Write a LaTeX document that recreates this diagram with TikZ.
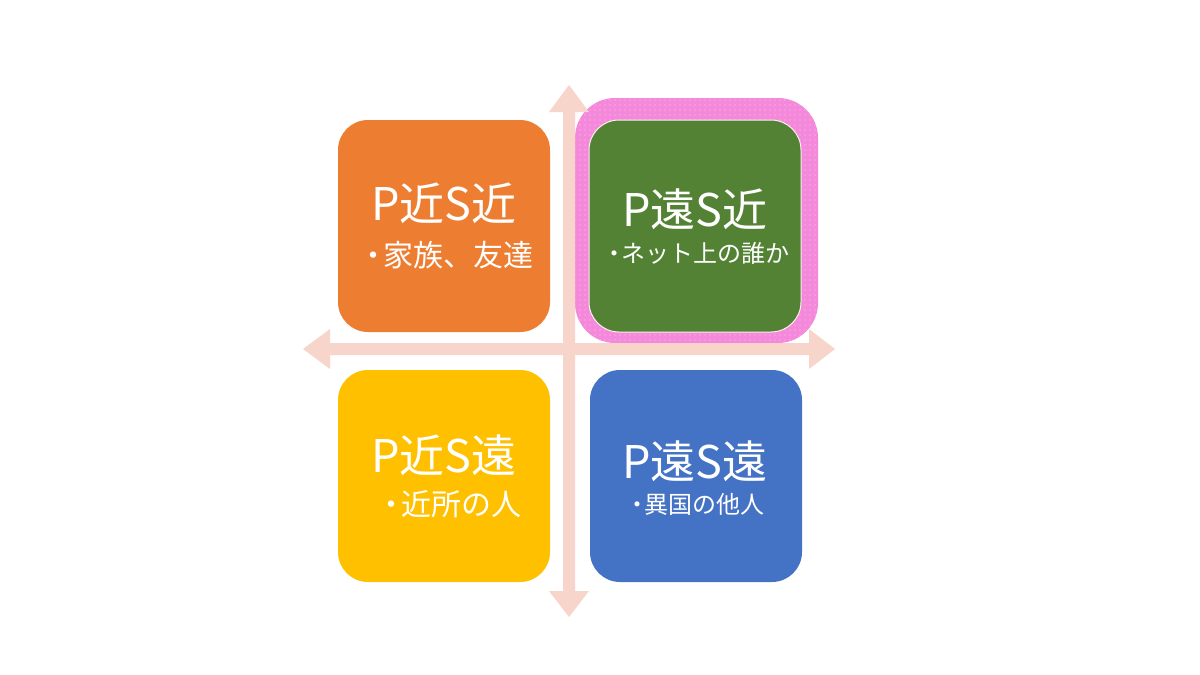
\documentclass[tikz,border=0pt]{standalone}
\usepackage{fontspec}
\setmainfont{Noto Sans CJK JP}
\usetikzlibrary{patterns.meta}
\definecolor{cOrange}{HTML}{ED7D31}
\definecolor{cGreen}{HTML}{548235}
\definecolor{cYellow}{HTML}{FFC000}
\definecolor{cBlue}{HTML}{4472C4}
\definecolor{cPink}{HTML}{F488DA}
\definecolor{cDot}{HTML}{FBC8EF}
\definecolor{cArrow}{HTML}{F8D5CA}
\newcommand{\bul}{・\kern-0.18em}
\tikzset{
  quadbox/.style={rounded corners=30pt, minimum width=212pt, minimum height=212pt, inner sep=0pt, draw=none},
  maintext/.style={text=white, font=\fontsize{45}{50}\selectfont, anchor=base, inner sep=0pt},
  subbig/.style={text=white, font=\fontsize{30}{34}\selectfont, anchor=base, inner sep=0pt},
  subsmall/.style={text=white, font=\fontsize{24}{28}\selectfont, anchor=base, inner sep=0pt},
  arrowshape/.style={fill=cArrow, draw=none}
}
\begin{document}
\begin{tikzpicture}[x=1pt,y=-1pt]
\useasboundingbox (0,0) rectangle (1200,675);
\fill[white] (0,0) rectangle (1200,675);
% highlight frame
\node[rounded corners=40pt, minimum width=243pt, minimum height=245pt, inner sep=0pt, fill=cPink] (frame) at (696.5,220.5) {};
\node[rounded corners=40pt, minimum width=243pt, minimum height=245pt, inner sep=0pt, pattern={Dots[distance=5pt,radius=0.6pt]}, pattern color=cDot] (framedots) at (696.5,220.5) {};
% axes
\fill[arrowshape] (563,112) -- (549,112) -- (569,85) -- (589,112) -- (575,112) -- (575,591) -- (589,591) -- (569,617) -- (549,591) -- (563,591) -- cycle;
\fill[arrowshape] (330,343) -- (330,329) -- (303,349) -- (330,369) -- (330,355) -- (809,355) -- (809,369) -- (835,349) -- (809,329) -- (809,343) -- cycle;
% boxes
\node[quadbox, fill=cOrange] (pnsn) at (444,226) {};
\node[quadbox, fill=cGreen, draw=white!90!brown, line width=1pt] (pfsn) at (695,226) {};
\node[quadbox, fill=cYellow] (pnsf) at (444,476) {};
\node[quadbox, fill=cBlue] (pfsf) at (696,476) {};
% texts
\node[maintext] (t1) at (444,220) {P近S近};
\node[subbig] (s1) at (446,266) {\bul 家族、友達};
\node[maintext] (t2) at (695,226) {P遠S近};
\node[subsmall] (s2) at (696,262) {\bul ネット上の誰か};
\node[maintext] (t3) at (444,472) {P近S遠};
\node[subbig] (s3) at (449,515) {\bul 近所の人};
\node[maintext] (t4) at (695,478) {P遠S遠};
\node[subsmall] (s4) at (695,513) {\bul 異国の他人};
\end{tikzpicture}
\end{document}
